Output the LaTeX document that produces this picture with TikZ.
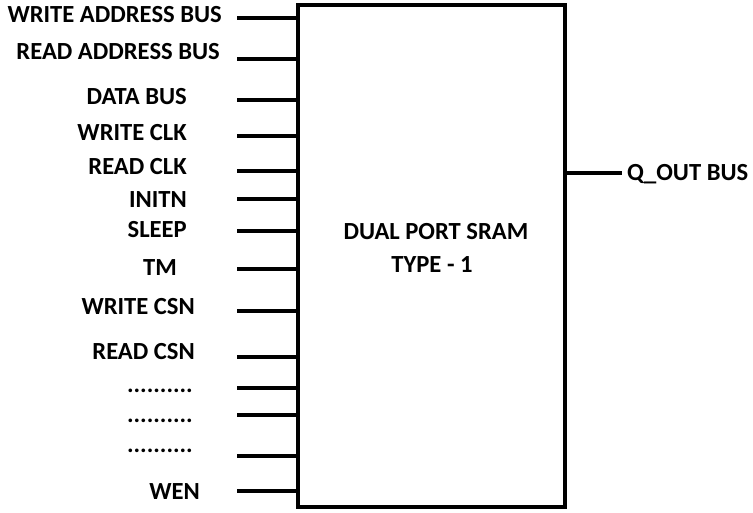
\documentclass[tikz,border=0pt]{standalone}
\usepackage{fontspec}
\setmainfont{Carlito}
\usepackage{tikz}
\usetikzlibrary{positioning,calc}

\begin{document}
\begin{tikzpicture}[
  x=1pt,y=-1pt,
  font=\fontsize{24.6}{28}\selectfont\bfseries,
  block/.style={draw,line width=4pt,minimum width=267pt,minimum height=502pt,inner sep=0pt},
  pin/.style={line width=4pt},
  lbl/.style={anchor=east,inner sep=0pt,text height=15.8pt,text depth=0pt},
  dots/.style={anchor=base east,inner sep=0pt},
]
\useasboundingbox (0,0) rectangle (753,512);

% SRAM block
\node[block] (sram) at (431.5,256) {};
\node (title) at (436,232) {DUAL PORT SRAM};
\node (kind) at (432,265) {TYPE - 1};

% input pins (left end of each pin)
\coordinate (waddr) at (237,18);
\coordinate (raddr) at (237,59);
\coordinate (data) at (237,100);
\coordinate (wclk) at (237,136);
\coordinate (rclk) at (237,171);
\coordinate (initn) at (237,199);
\coordinate (sleep) at (237,231);
\coordinate (tm) at (237,269);
\coordinate (wcsn) at (237,311);
\coordinate (rcsn) at (237,357);
\coordinate (more1) at (237,388);
\coordinate (more2) at (237,415);
\coordinate (more3) at (237,456);
\coordinate (wen) at (237,491);

\draw[pin] (waddr) -- (waddr -| sram.west);
\draw[pin] (raddr) -- (raddr -| sram.west);
\draw[pin] (data) -- (data -| sram.west);
\draw[pin] (wclk) -- (wclk -| sram.west);
\draw[pin] (rclk) -- (rclk -| sram.west);
\draw[pin] (initn) -- (initn -| sram.west);
\draw[pin] (sleep) -- (sleep -| sram.west);
\draw[pin] (tm) -- (tm -| sram.west);
\draw[pin] (wcsn) -- (wcsn -| sram.west);
\draw[pin] (rcsn) -- (rcsn -| sram.west);
\draw[pin] (more1) -- (more1 -| sram.west);
\draw[pin] (more2) -- (more2 -| sram.west);
\draw[pin] (more3) -- (more3 -| sram.west);
\draw[pin] (wen) -- (wen -| sram.west);

% pin names
\node[lbl] (waddrlbl) at (222,15) {WRITE ADDRESS BUS};
\node[lbl] (raddrlbl) at (220,52) {READ ADDRESS BUS};
\node[lbl] (datalbl) at (187,97) {DATA BUS};
\node[lbl] (wclklbl) at (187,133) {WRITE CLK};
\node[lbl] (rclklbl) at (187,167) {READ CLK};
\node[lbl] (initnlbl) at (187,200) {INITN};
\node[lbl] (sleeplbl) at (187,230) {SLEEP};
\node[lbl] (tmlbl) at (177,268) {TM};
\node[lbl] (wcsnlbl) at (195,307) {WRITE CSN};
\node[lbl] (rcsnlbl) at (195,352) {READ CSN};
\node[dots] (more1lbl) at (193,392) {..........};
\node[dots] (more2lbl) at (193,422) {..........};
\node[dots] (more3lbl) at (193,452) {..........};
\node[lbl] (wenlbl) at (200,492) {WEN};

% output pin
\coordinate (qout) at (622,173);
\draw[pin] (qout -| sram.east) -- (qout);
\node[lbl,anchor=west] (qoutlbl) at (627,173) {Q\_OUT BUS};

\end{tikzpicture}
\end{document}
